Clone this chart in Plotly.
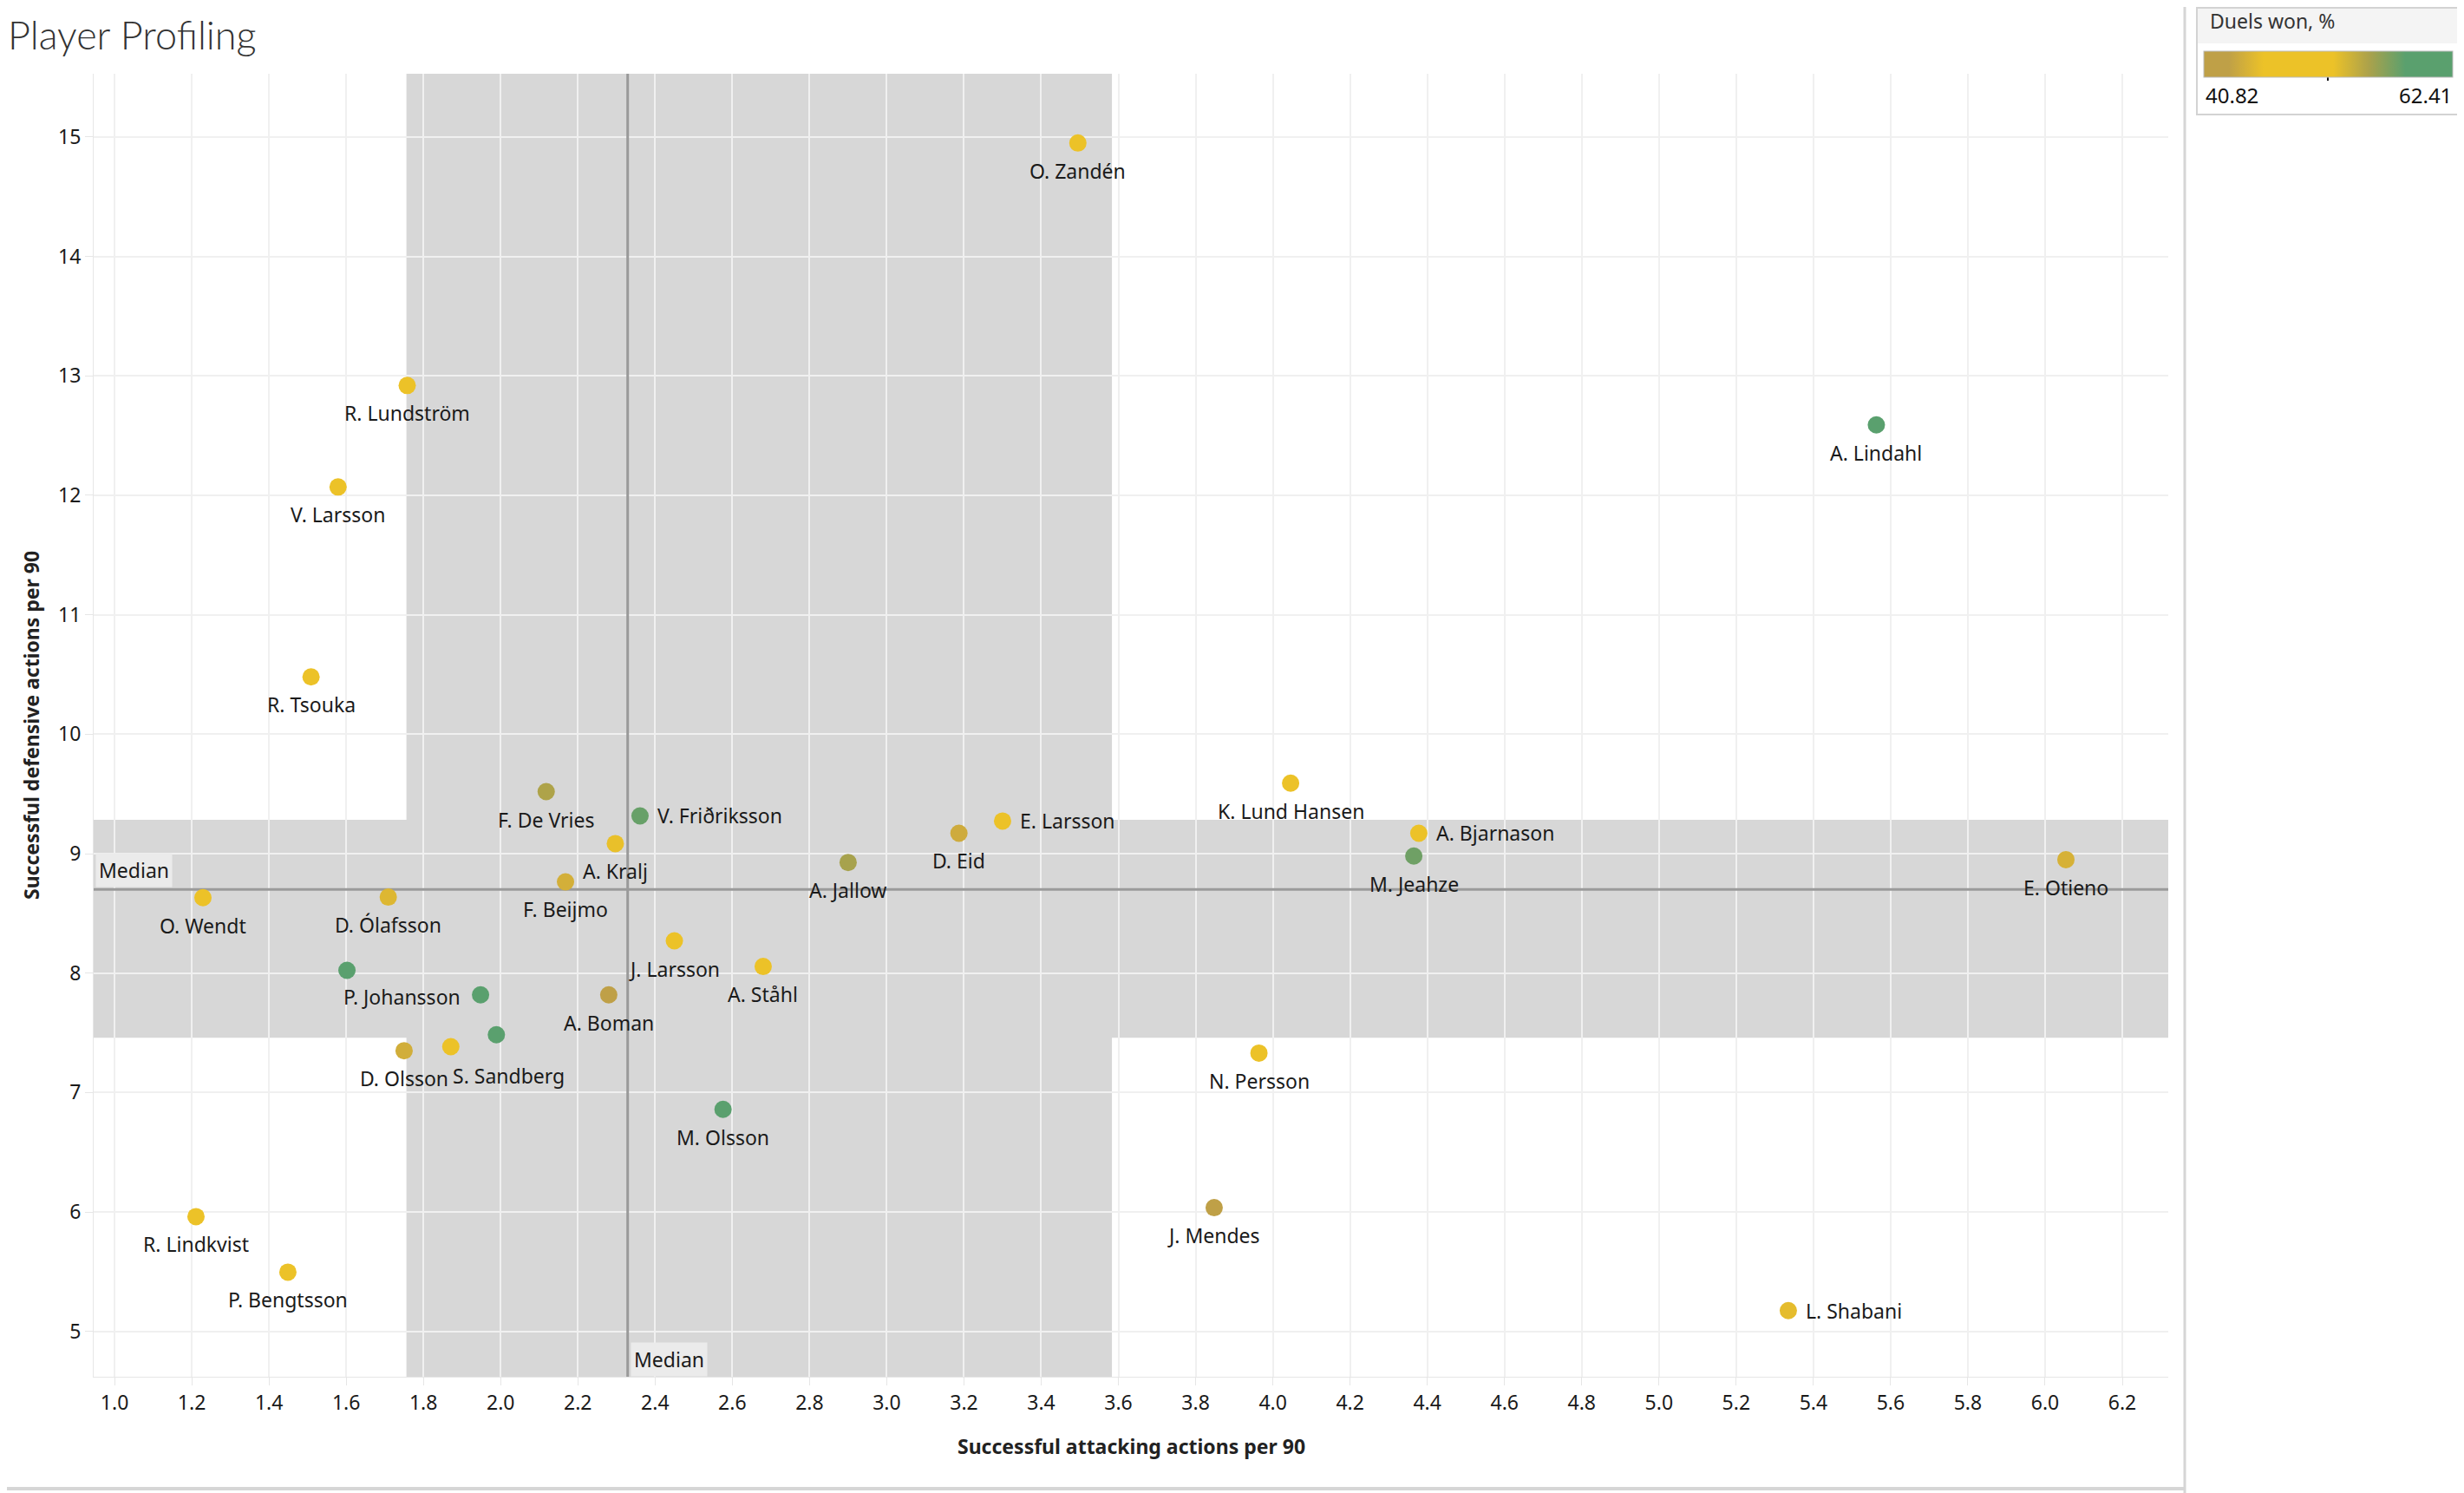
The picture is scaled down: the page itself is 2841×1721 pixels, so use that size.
import numpy as np
import plotly.graph_objects as go

# ---------------- data ----------------
players = [
    "O. Zandén", "R. Lundström", "V. Larsson", "R. Tsouka", "A. Lindahl",
    "K. Lund Hansen", "A. Bjarnason", "M. Jeahze", "E. Otieno", "F. De Vries",
    "V. Friðriksson", "A. Kralj", "F. Beijmo", "D. Eid", "E. Larsson",
    "A. Jallow", "O. Wendt", "D. Ólafsson", "P. Johansson", "",
    "D. Olsson", "", "S. Sandberg", "J. Larsson", "A. Ståhl",
    "A. Boman", "M. Olsson", "N. Persson", "J. Mendes", "L. Shabani",
    "R. Lindkvist", "P. Bengtsson",
]
attacking = [
    3.495, 1.758, 1.579, 1.509, 5.563,
    4.046, 4.378, 4.365, 6.054, 2.118,
    2.361, 2.297, 2.168, 3.187, 3.300,
    2.900, 1.229, 1.709, 1.602, 1.948,
    1.750, 1.871, 1.989, 2.450, 2.680,
    2.280, 2.576, 3.964, 3.848, 5.335,
    1.211, 1.449,
]
defensive = [
    14.95, 12.92, 12.07, 10.48, 12.59,
    9.59, 9.171, 8.98, 8.95, 9.519,
    9.316, 9.084, 8.764, 9.171, 9.273,
    8.926, 8.631, 8.636, 8.023, 7.818,
    7.350, 7.384, 7.484, 8.270, 8.055,
    7.818, 6.859, 7.330, 6.036, 5.174,
    5.961, 5.496,
]
duels_won = [
    48.0, 47.5, 49.0, 48.0, 62.41,
    50.0, 48.5, 57.5, 44.5, 55.0,
    57.8, 45.8, 44.3, 44.0, 46.0,
    55.3, 46.0, 45.0, 61.0, 60.5,
    44.2, 48.5, 60.0, 49.5, 47.5,
    42.0, 61.5, 49.0, 40.82, 45.5,
    50.0, 48.0,
]
x_ticks = [round(1.0 + 0.2 * i, 1) for i in range(27)]
y_ticks = list(range(5, 16))
duels_min, duels_max = 40.82, 62.41

# ---------------- styling / layout constants ----------------
OFF = 8  # page body margin of the html page
W, H = 2841 - OFF, 1721 - OFF
ML, MR, MT, MB = 108 - OFF, 341, 85 - OFF, 134
PW, PH = W - ML - MR, H - MT - MB
X_RANGE = [0.946, 6.319]
Y_RANGE = [4.62, 15.53]

OLIVE, YELLOW, GREEN = "#BFA047", "#ECC228", "#5AA06E"
colorscale = [[0, OLIVE], [0.1, OLIVE], [0.24, YELLOW], [0.52, YELLOW],
              [0.66, "#ADA24A"], [0.81, GREEN], [1, GREEN]]
FONT = "Noto Sans"
BAND = "#D7D7D7"
LABEL_SIZE = 23
RIGHT_LABELS = {"V. Friðriksson", "E. Larsson", "A. Bjarnason", "L. Shabani"}
LABEL_NUDGE = {"P. Johansson": (63, -30), "S. Sandberg": (14, -47)}


def px_x(px):
    """screen pixel (reference coords) -> paper x"""
    return (px - OFF - ML) / PW


def px_y(py):
    """screen pixel (reference coords) -> paper y"""
    return 1 - (py - OFF - MT) / PH


x = np.array(attacking)
y = np.array(defensive)
med_x, med_y = float(np.median(x)), float(np.median(y))
qx = np.percentile(x, [25, 75])
qy = np.percentile(y, [25, 75])

fig = go.Figure()

# median lines
fig.add_trace(go.Scatter(x=[med_x, med_x], y=Y_RANGE, mode="lines",
                         line=dict(color="#9A9A9A", width=3),
                         hoverinfo="skip", showlegend=False))
fig.add_trace(go.Scatter(x=X_RANGE, y=[med_y, med_y], mode="lines",
                         line=dict(color="#9A9A9A", width=3),
                         hoverinfo="skip", showlegend=False))

# players
fig.add_trace(go.Scatter(
    x=attacking, y=defensive, mode="markers", text=players,
    marker=dict(size=20, color=duels_won, colorscale=colorscale,
                cmin=duels_min, cmax=duels_max, line=dict(width=0),
                showscale=True,
                colorbar=dict(orientation="h", xref="paper", yref="paper",
                              x=px_x(2541), xanchor="left", y=px_y(59), yanchor="top",
                              lenmode="pixels", len=287, thickness=30,
                              xpad=0, ypad=0, outlinecolor="#BBBBBB", outlinewidth=1,
                              showticklabels=False, ticks="")),
    hovertemplate="%{text}<br>%{x}, %{y}<br>Duels won %{marker.color}%<extra></extra>",
    showlegend=False,
))

annotations = []
for name, ax_, ay_ in zip(players, attacking, defensive):
    if not name:
        continue
    if name in RIGHT_LABELS:
        annotations.append(dict(x=ax_, y=ay_, text=name, showarrow=False,
                                xanchor="left", yanchor="middle", xshift=18,
                                font=dict(size=LABEL_SIZE, color="#1A1A1A", family=FONT)))
    else:
        dx, dy = LABEL_NUDGE.get(name, (0, -32))
        annotations.append(dict(x=ax_, y=ay_, text=name, showarrow=False,
                                xanchor="center", yanchor="middle",
                                xshift=dx, yshift=dy,
                                font=dict(size=LABEL_SIZE, color="#1A1A1A", family=FONT)))

# median labels
annotations.append(dict(x=0, xref="paper", y=med_y, yref="y", text="Median",
                        showarrow=False, xanchor="left", yanchor="bottom",
                        xshift=2, yshift=2, bgcolor="#EBEBEB", borderpad=3,
                        font=dict(size=LABEL_SIZE, color="#1A1A1A", family=FONT)))
annotations.append(dict(x=med_x, xref="x", y=0, yref="paper", text="Median",
                        showarrow=False, xanchor="left", yanchor="bottom",
                        xshift=3, yshift=0, bgcolor="#EBEBEB", borderpad=3,
                        font=dict(size=LABEL_SIZE, color="#1A1A1A", family=FONT)))

# axis titles
annotations.append(dict(x=0.5, xref="paper", y=px_y(1667), yref="paper",
                        text="<b>Successful attacking actions per 90</b>",
                        showarrow=False, xanchor="center", yanchor="middle",
                        font=dict(size=23, color="#222222", family=FONT)))
annotations.append(dict(x=px_x(36), xref="paper", y=0.5, yref="paper",
                        text="<b>Successful defensive actions per 90</b>", textangle=-90,
                        showarrow=False, xanchor="center", yanchor="middle",
                        font=dict(size=23, color="#222222", family=FONT)))

# legend texts
annotations.append(dict(x=px_x(2546), xref="paper", y=px_y(24), yref="paper",
                        text="Duels won, %", showarrow=False, xanchor="left",
                        yanchor="middle", font=dict(size=23, color="#333333", family=FONT)))
annotations.append(dict(x=px_x(2541), xref="paper", y=px_y(109), yref="paper",
                        text=f"{duels_min:.2f}", showarrow=False, xanchor="left",
                        yanchor="middle", font=dict(size=24, color="#111111", family=FONT)))
annotations.append(dict(x=px_x(2829), xref="paper", y=px_y(109), yref="paper",
                        text=f"{duels_max:.2f}", showarrow=False, xanchor="right",
                        yanchor="middle", font=dict(size=24, color="#111111", family=FONT)))

shapes = [
    # interquartile bands
    dict(type="rect", xref="x", yref="paper", x0=qx[0], x1=qx[1], y0=0, y1=1,
         fillcolor=BAND, line=dict(width=0), layer="below"),
    dict(type="rect", xref="paper", yref="y", x0=0, x1=1, y0=qy[0], y1=qy[1],
         fillcolor=BAND, line=dict(width=0), layer="below"),
    # sheet borders
    dict(type="line", xref="paper", yref="paper", x0=px_x(2519), x1=px_x(2519),
         y0=px_y(8), y1=px_y(1721), line=dict(color="#D6D6D6", width=3)),
    dict(type="line", xref="paper", yref="paper", x0=px_x(8), x1=px_x(2519),
         y0=px_y(1716), y1=px_y(1716), line=dict(color="#D6D6D6", width=4)),
    # legend panel
    dict(type="rect", xref="paper", yref="paper", x0=px_x(2533), x1=px_x(2839),
         y0=px_y(9), y1=px_y(50), fillcolor="#F4F4F4", line=dict(width=0)),
    dict(type="rect", xref="paper", yref="paper", x0=px_x(2533), x1=px_x(2839),
         y0=px_y(9), y1=px_y(132), line=dict(color="#D3D3D3", width=2)),
    dict(type="line", xref="paper", yref="paper", x0=px_x(2684), x1=px_x(2684),
         y0=px_y(86), y1=px_y(93), line=dict(color="#111111", width=2)),
]

axis_common = dict(showgrid=True, gridcolor="#F0F0F0", gridwidth=2, zeroline=False,
                   showline=True, linecolor="#E6E6E6", linewidth=1,
                   ticks="outside", ticklen=9, tickcolor="#E6E6E6",
                   tickfont=dict(size=23, color="#1A1A1A", family=FONT))

fig.update_layout(
    width=W, height=H, autosize=False,
    margin=dict(l=ML, r=MR, t=MT, b=MB, pad=0, autoexpand=False),
    paper_bgcolor="white", plot_bgcolor="white",
    font=dict(family=FONT),
    title=dict(text="Player Profiling", x=1 / W, xanchor="left", xref="container",
               y=1 - 33 / H, yanchor="middle", yref="container",
               font=dict(size=45, color="#333333", family="Lato", weight=300)),
    xaxis=dict(range=X_RANGE, tickvals=x_ticks, ticktext=[f"{v:.1f}" for v in x_ticks],
               **axis_common),
    yaxis=dict(range=Y_RANGE, tickvals=y_ticks, **axis_common),
    shapes=shapes,
    annotations=annotations,
    showlegend=False,
)

fig.write_html("out.html")
